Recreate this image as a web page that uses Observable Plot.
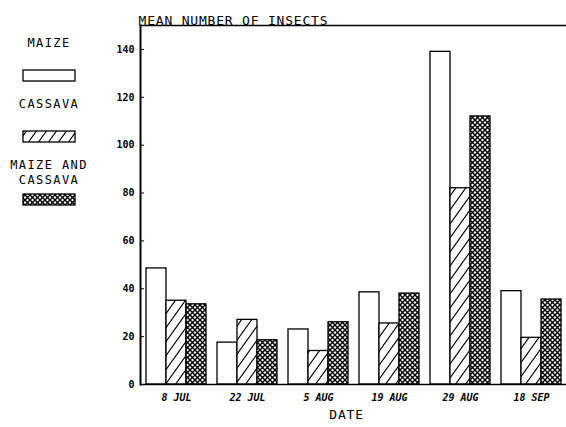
<!DOCTYPE html>
<html>
<head>
<meta charset="utf-8">
<script src="https://cdn.jsdelivr.net/npm/d3@7"></script>
<script src="https://cdn.jsdelivr.net/npm/@observablehq/plot@0.6"></script>
<style>
  html, body { margin: 0; padding: 0; background: #fff; }
  #wrap { position: relative; width: 566px; height: 427px; }
  #legend { position: absolute; left: 0; top: 0; }
</style>
</head>
<body>
<div id="wrap"><div id="chart"></div></div>
<script>
// ---- data ----
const dates = ["8 JUL", "22 JUL", "5 AUG", "19 AUG", "29 AUG", "18 SEP"];
const maize = [48.5, 17.5, 23, 38.5, 139, 39];
const cassava = [35, 27, 14, 25.5, 82, 19.5];
const maizeAndCassava = [33.5, 18.5, 26, 38, 112, 35.5];
const yTicks = [0, 20, 40, 60, 80, 100, 120, 140];
const seriesNames = ["MAIZE", "CASSAVA", "MAIZE AND\nCASSAVA"];
const titleText = "MEAN NUMBER OF INSECTS";
const xTitle = "DATE";

// ---- layout ----
const W = 566, H = 427, ML = 140, MR = 0, MT = 25, MB = 43;
const padIn = 0.155, padOut = 0.0775;
const step = (W - ML - MR) / (dates.length - padIn + 2 * padOut);
const third = step * (1 - padIn) / 3;
const MONO = "DejaVu Sans Mono";

const rows = dates.map((d, i) => ({date: d, maize: maize[i], cassava: cassava[i], mixed: maizeAndCassava[i]}));

const svg = Plot.plot({
  width: W, height: H,
  marginLeft: ML, marginRight: MR, marginTop: MT, marginBottom: MB,
  style: {fontFamily: MONO, color: "black", background: "white"},
  x: {domain: dates, paddingInner: padIn, paddingOuter: padOut},
  y: {domain: [0, 150]},
  marks: [
    Plot.barY(rows, {x: "date", y: "maize", fill: "white", stroke: "black", strokeWidth: 1.3, insetRight: 2 * third}),
    Plot.barY(rows, {x: "date", y: "cassava", fill: "url(#hatch)", stroke: "black", strokeWidth: 1.3, insetLeft: third, insetRight: third}),
    Plot.barY(rows, {x: "date", y: "mixed", fill: "url(#cross)", stroke: "black", strokeWidth: 1.3, insetLeft: 2 * third}),
    Plot.ruleY([0], {strokeWidth: 1.5}),
    Plot.ruleY([150], {strokeWidth: 1.5}),
    Plot.frame({anchor: "left", strokeWidth: 2}),
    Plot.axisY({ticks: yTicks, tickSize: -4, tickPadding: 10, label: null, fontSize: 10, fontWeight: "bold"}),
    Plot.axisX({tickSize: 0, tickPadding: 9, label: null, fontSize: 10, fontStyle: "italic", fontWeight: "bold"}),
    Plot.text([titleText], {text: d => d, frameAnchor: "top-left", textAnchor: "start", dx: -2, dy: -10, fontSize: 13}),
    Plot.text([xTitle], {text: d => d, frameAnchor: "bottom", dy: 34, dx: -7, fontSize: 13})
  ]
});

// patterns
const defs = d3.select(svg).insert("defs", ":first-child");
const ph = defs.append("pattern").attr("id", "hatch").attr("patternUnits", "userSpaceOnUse").attr("width", 10).attr("height", 14);
ph.append("rect").attr("width", 10).attr("height", 14).attr("fill", "white");
ph.append("path").attr("d", "M0,14L10,0M-1,1.4L1,-1.4M9,15.4L11,12.6").attr("stroke", "black").attr("stroke-width", 1.1);
const pc = defs.append("pattern").attr("id", "cross").attr("patternUnits", "userSpaceOnUse").attr("width", 5).attr("height", 5);
pc.append("rect").attr("width", 5).attr("height", 5).attr("fill", "white");
pc.append("path").attr("d", "M0,0L5,5M5,0L0,5").attr("stroke", "black").attr("stroke-width", 1.4);

d3.select(svg).selectAll("[aria-label=text] text").attr("letter-spacing", "0.8px");

document.getElementById("chart").appendChild(svg);

// legend
const fills = ["white", "url(#hatch)", "url(#cross)"];
const lg = d3.select("#wrap").append("svg").attr("id", "legend").attr("width", 130).attr("height", 220)
  .style("font-family", MONO).style("font-size", "12px").style("letter-spacing", "1.4px");
const labelY = [[43], [103.5], [165.5], [179.5]];
const lines = [["MAIZE"], ["CASSAVA"], seriesNames[2].split("\n")];
const lineY = [[43], [103.5], [165, 180]];
const boxY = [70, 131, 194];
lines.forEach((ls, i) => {
  ls.forEach((line, j) => {
    lg.append("text").attr("x", 49).attr("y", lineY[i][j]).attr("text-anchor", "middle").attr("dominant-baseline", "central").text(line);
  });
  lg.append("rect").attr("x", 23).attr("y", boxY[i]).attr("width", 52).attr("height", 11)
    .attr("fill", fills[i]).attr("stroke", "black").attr("stroke-width", 1.3);
});
</script>
</body>
</html>
